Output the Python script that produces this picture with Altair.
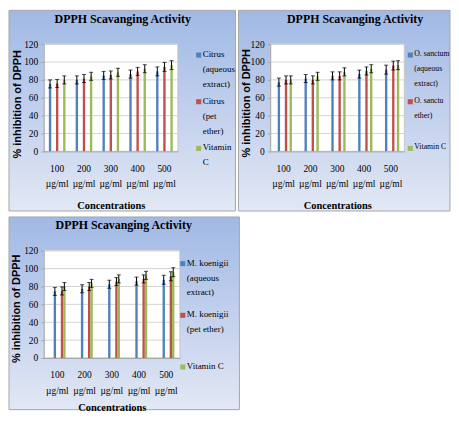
import json
import altair as alt
import pandas as pd

SERIF = "Liberation Serif"

concentrations = ["100 µg/ml", "200 µg/ml", "300 µg/ml", "400 µg/ml", "500 µg/ml"]
colors = ["#4f81bd", "#c0504d", "#9bbb59"]
y_ticks = [0, 20, 40, 60, 80, 100, 120]

# Panel 1 - Citrus
citrus_series = ["Citrus (aqueous extract)", "Citrus (pet ether)", "Vitamin C"]
citrus_aqueous = [75.5, 80, 85, 86.5, 89.5]
citrus_pet = [76, 81.5, 85.5, 89.5, 94.5]
citrus_vitc = [80, 84, 88.5, 92.5, 96.5]
citrus_err = [4.5, 4.5, 4.5, 4.5, 5]
citrus_legend = [["Citrus", "(aqueous", "extract)"], ["Citrus", "(pet", "ether)"], ["Vitamin", "C"]]

# Panel 2 - O. sanctum
sanctum_series = ["O. sanctum (aqueous extract)", "O. sanctum(pet ether)", "Vitamin C"]
sanctum_aqueous = [77.5, 81.5, 84.5, 86.5, 91.5]
sanctum_pet = [80, 80, 84.5, 90, 96]
sanctum_vitc = [80, 84, 89, 92.5, 96.5]
sanctum_err = [4.5, 4.5, 4.5, 4.5, 5]
sanctum_legend = [["O. sanctum", "(aqueous", "extract)"], ["O. sanctum(pet", "ether)"], ["Vitamin C"]]

# Panel 3 - M. koenigii
koenigii_series = ["M. koenigii (aqueous extract)", "M. koenigii (pet ether)", "Vitamin C"]
koenigii_aqueous = [74.5, 77.5, 82.5, 86, 87.5]
koenigii_pet = [75, 80, 85.5, 88.5, 91.5]
koenigii_vitc = [80, 83.5, 88.5, 92.5, 96]
koenigii_err = [4.5, 4.5, 4.5, 4.5, 5]
koenigii_legend = [["M. koenigii", "(aqueous", "extract)"], ["M. koenigii", "(pet ether)"], ["Vitamin C"]]


def make_panel(series, value_lists, errs, legend_lines, L, W, R, T, H, B,
               leg_x, leg_y0, leg_step, leg_font, title_dx, x_title_pad,
               ytitle_x, ytitle_dy):
    rows = []
    for s, vals in zip(series, value_lists):
        for c, v, e in zip(concentrations, vals, errs):
            rows.append({"Concentration": c, "Series": s, "Value": v,
                         "Low": v - e, "High": v + e})
    df = pd.DataFrame(rows)

    expr = ""
    for s, lines in zip(series, legend_lines):
        expr += f"datum.Series === '{s}' ? {json.dumps(lines, ensure_ascii=False)} : "
    expr += "datum.Series"

    yscale = alt.Scale(domain=[0, 120], nice=False)
    yaxis = alt.Axis(title="% inhibition of DPPH", titleFont="Liberation Sans",
                     titleFontSize=11, titleFontWeight="bold", titleColor="black",
                     titleX=ytitle_x, titleY=H / 2 + ytitle_dy, titleAngle=270,
                     titleAlign="center", titleBaseline="middle",
                     values=y_ticks, labelFont=SERIF, labelFontSize=9.5,
                     labelColor="black", grid=False, domainColor="#a6a6a6",
                     tickColor="#a6a6a6", tickSize=3, labelPadding=3, zindex=1)
    xaxis = alt.Axis(title="Concentrations", titleFont=SERIF, titleFontSize=10.5,
                     titleFontWeight="bold", titleColor="black", titlePadding=x_title_pad,
                     labelFont=SERIF, labelFontSize=9.5, labelColor="black", labelAngle=0,
                     labelExpr="split(datum.label, ' ')", labelLineHeight=15.5,
                     labelPadding=12, ticks=False, domainColor="#a6a6a6", grid=False,
                     zindex=1)
    xenc = alt.X("Concentration:N", sort=concentrations,
                 scale=alt.Scale(type="band", paddingInner=0.38, paddingOuter=0.19),
                 axis=xaxis)
    xoff = alt.XOffset("Series:N", sort=series,
                       scale=alt.Scale(type="band", paddingInner=0, paddingOuter=0))
    cscale = alt.Scale(domain=series, range=colors)

    gradient = alt.LinearGradient(
        gradient="linear",
        stops=[alt.GradientStop(offset=0, color="#a0b9e4"),
               alt.GradientStop(offset=0.5, color="#c2d0ed"),
               alt.GradientStop(offset=1, color="#e2e8f4")],
        x1=0, x2=0, y1=0, y2=1)
    one = pd.DataFrame({"k": [0]})
    bg = alt.Chart(one).mark_rect(fill=gradient, stroke="#a6a6a6", strokeWidth=1).encode(
        x=alt.value(-L), x2=alt.value(W + R), y=alt.value(-T), y2=alt.value(H + B))
    plotbg = alt.Chart(one).mark_rect(fill="white", stroke="#c8c8c8", strokeWidth=1).encode(
        x=alt.value(0), x2=alt.value(W), y=alt.value(0), y2=alt.value(H))
    grid = alt.Chart(pd.DataFrame({"t": y_ticks})).mark_rule(
        color="#d4d4d4", strokeWidth=1).encode(
        y=alt.Y("t:Q", scale=yscale, axis=yaxis))
    bars = alt.Chart(df).mark_bar().encode(
        x=xenc, xOffset=xoff,
        y=alt.Y("Value:Q", scale=yscale, axis=yaxis),
        color=alt.Color("Series:N", sort=series, scale=cscale, legend=None))
    err = alt.Chart(df).mark_rule(color="black", strokeWidth=1).encode(
        x=xenc, xOffset=xoff,
        y=alt.Y("Low:Q", scale=yscale, axis=yaxis), y2="High:Q")
    cap_hi = alt.Chart(df).mark_tick(color="black", thickness=1, size=4).encode(
        x=xenc, xOffset=xoff, y=alt.Y("High:Q", scale=yscale, axis=yaxis))
    cap_lo = alt.Chart(df).mark_tick(color="black", thickness=1, size=4).encode(
        x=xenc, xOffset=xoff, y=alt.Y("Low:Q", scale=yscale, axis=yaxis))
    plot = alt.layer(bg, plotbg, grid, bars, err, cap_hi, cap_lo)

    # legend drawn as marks (multi-line labels), clipped at the panel edge
    text_x = leg_x + 4
    leg_df = pd.DataFrame({"Series": series, "idx": list(range(len(series)))})
    lscale = alt.Scale(type="point", domain=list(range(len(series))),
                       range=[leg_y0, leg_y0 + leg_step * (len(series) - 1)], padding=0)
    leg_base = alt.Chart(leg_df).transform_calculate(lines=expr)
    leg_sym = leg_base.mark_square(size=26, opacity=1).encode(
        x=alt.value(W + leg_x),
        y=alt.Y("idx:O", scale=lscale, axis=None),
        color=alt.Color("Series:N", sort=series, scale=cscale, legend=None))
    leg_txt = leg_base.mark_text(align="left", baseline="top", font=SERIF,
                                 fontSize=leg_font, lineHeight=15, color="black", dy=-5,
                                 limit=R - text_x, ellipsis=" ").encode(
        x=alt.value(W + text_x),
        y=alt.Y("idx:O", scale=lscale, axis=None),
        text="lines:N")
    legend = alt.layer(leg_sym, leg_txt)

    return alt.layer(plot, legend).resolve_scale(y="independent").properties(
        width=W, height=H,
        title=alt.TitleParams(text="DPPH Scavanging Activity", font=SERIF, fontSize=12,
                              fontWeight="bold", color="black", anchor="middle",
                              dx=title_dx, offset=-16, zindex=1))


p1 = make_panel(citrus_series, [citrus_aqueous, citrus_pet, citrus_vitc], citrus_err,
                citrus_legend, 35, 135, 58, 34, 108, 60, 21, 11, 47, 9, 12, 12, -26, 6)
p2 = make_panel(sanctum_series, [sanctum_aqueous, sanctum_pet, sanctum_vitc], sanctum_err,
                sanctum_legend, 32, 135, 46, 34, 108, 60, 6, 11, 47, 7.8, 18, 12, -24, 5)
p3 = make_panel(koenigii_series, [koenigii_aqueous, koenigii_pet, koenigii_vitc], koenigii_err,
                koenigii_legend, 35, 137, 60, 34, 108, 52, 3, 13, 52, 9, 12, 8, -27, 4)

top = alt.hconcat(p1, p2, spacing=1).resolve_scale(color="independent")
chart = alt.vconcat(top, p3, spacing=4).resolve_scale(color="independent").properties(
    padding=0, background="white").configure_view(stroke=None)

chart.save("out.html", embed_options={"renderer": "svg", "actions": False})
